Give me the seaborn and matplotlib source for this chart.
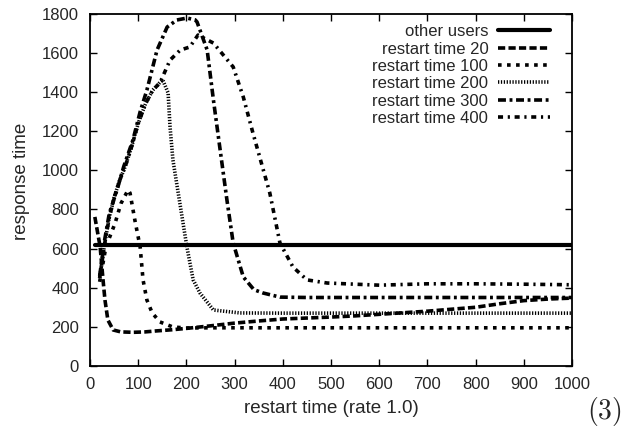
import matplotlib
matplotlib.use("Agg")
import matplotlib.pyplot as plt
import seaborn as sns
import pandas as pd

# ---- data ----
other_x = [10, 1000]
other_y = [620, 620]

r20_x = [10, 21, 27, 31, 37, 48, 64, 90, 114, 137, 170, 200, 250, 300, 350, 400, 450, 500, 550,
         600, 650, 700, 750, 800, 850, 900, 950, 1000]
r20_y = [762, 609, 440, 337, 235, 184, 174, 172, 174, 179, 185, 192, 205, 219, 230, 240, 245, 250, 256,
         264, 272, 280, 290, 300, 318, 334, 342, 347]

r100_x = [20, 33, 52, 64, 79, 83, 93, 104, 110, 118, 129, 145, 172, 201, 250, 300, 400, 500, 600,
          700, 800, 900, 1000]
r100_y = [430, 610, 730, 830, 900, 884, 746, 608, 440, 337, 271, 225, 199, 194, 195, 195, 195, 195, 195,
          195, 195, 195, 195]

r200_x = [20, 30, 40, 50, 60, 73, 85, 100, 115, 130, 145, 151, 162, 166, 172, 183, 201, 214, 228,
          256, 311, 400, 500, 600, 700, 800, 900, 1000]
r200_y = [450, 620, 760, 860, 940, 1020, 1110, 1240, 1340, 1410, 1450, 1462, 1396, 1222, 1053, 884, 608,
          440, 373, 286, 271, 270, 270, 270, 270, 270, 270, 270]

r300_x = [20, 30, 40, 56, 70, 89, 104, 118, 139, 160, 180, 201, 218, 222, 243, 256, 270, 284, 297,
          318, 340, 359, 394, 450, 500, 600, 700, 800, 900, 1000]
r300_y = [460, 640, 780, 900, 1020, 1155, 1300, 1411, 1615, 1733, 1769, 1779, 1770, 1759, 1616, 1360,
          1104, 849, 629, 455, 390, 373, 352, 350, 350, 350, 350, 350, 350, 350]

r400_x = [20, 30, 40, 50, 60, 73, 85, 100, 115, 130, 145, 166, 187, 207, 224, 256, 297, 318, 338,
          373, 394, 421, 450, 492, 550, 600, 700, 800, 900, 1000]
r400_y = [450, 620, 760, 860, 940, 1020, 1110, 1240, 1340, 1410, 1447, 1564, 1615, 1631, 1692, 1651,
          1529, 1375, 1191, 884, 629, 506, 440, 424, 418, 413, 420, 420, 418, 415]

series_labels = ["other users", "restart time 20", "restart time 100",
                 "restart time 200", "restart time 300", "restart time 400"]
series_x = [other_x, r20_x, r100_x, r200_x, r300_x, r400_x]
series_y = [other_y, r20_y, r100_y, r200_y, r300_y, r400_y]

x_ticks = [0, 100, 200, 300, 400, 500, 600, 700, 800, 900, 1000]
y_ticks = [0, 200, 400, 600, 800, 1000, 1200, 1400, 1600, 1800]

# ---- style ----
sns.set_style("ticks")
plt.rcParams["font.family"] = ["Liberation Sans", "DejaVu Sans"]
plt.rcParams["mathtext.fontset"] = "cm"
plt.rcParams["xtick.direction"] = "in"
plt.rcParams["ytick.direction"] = "in"

linestyles = [
    "-",
    (0, (2.0, 0.9)),
    (0, (1.0, 1.5)),
    (0, (0.35, 0.45)),
    (0, (2.2, 1.0, 0.8, 1.0)),
    (0, (1.4, 1.3, 0.6, 1.3)),
]
widths = [3.0, 2.6, 2.6, 2.6, 2.6, 2.6]

fig = plt.figure(figsize=(6.23, 4.29), dpi=100)
ax = fig.add_axes([0.1445, 0.147, 0.7737, 0.8205])

for lab, xs, ys, ls, lw in zip(series_labels, series_x, series_y, linestyles, widths):
    df = pd.DataFrame({"x": xs, "y": ys})
    sns.lineplot(data=df, x="x", y="y", ax=ax, color="black", linestyle=ls,
                 linewidth=lw, label=lab, sort=False, estimator=None)

ax.set_xlim(0, 1000)
ax.set_ylim(0, 1800)
ax.set_xticks(x_ticks)
ax.set_yticks(y_ticks)
ax.tick_params(axis="both", which="major", labelsize=12, length=5, width=1,
               top=True, right=True, color="black", pad=8)
for sp in ax.spines.values():
    sp.set_visible(True)
    sp.set_linewidth(1.3)
    sp.set_color("black")

ax.set_xlabel("restart time (rate 1.0)", fontsize=13.5, labelpad=6)
ax.set_ylabel("response time", fontsize=13.5)
ax.yaxis.set_label_coords(-0.125, 0.523)

handles, labels = ax.get_legend_handles_labels()
ax.legend(handles, labels, loc="upper right", bbox_to_anchor=(0.975, 0.999),
          frameon=False, markerfirst=False, fontsize=12, handlelength=3.1,
          labelspacing=0.14, handletextpad=0.6, borderaxespad=0.2)

fig.text(0.998, 0.04, r"$(3)$", fontsize=20, ha="right", va="center")

fig.savefig("out.png", dpi=100)
